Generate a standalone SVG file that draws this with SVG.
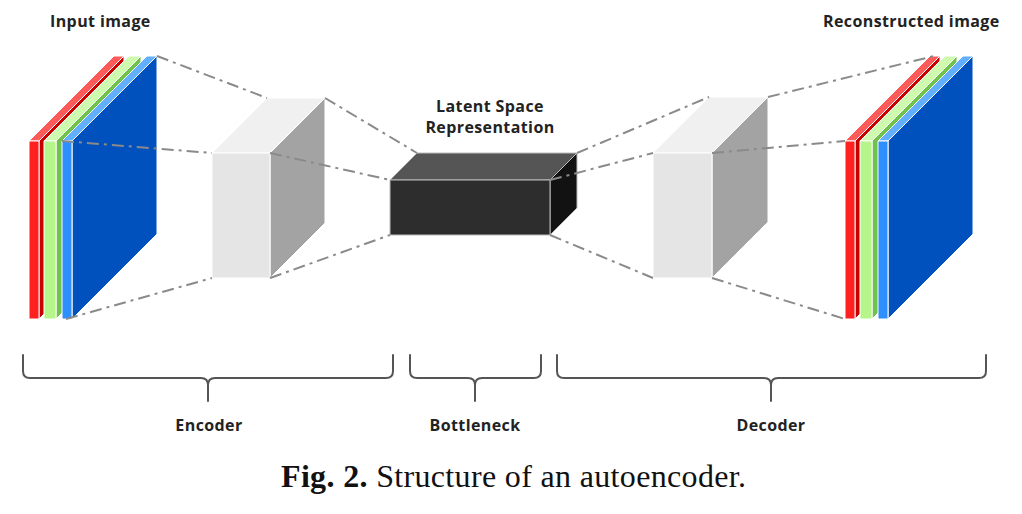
<svg xmlns="http://www.w3.org/2000/svg" width="1022" height="514" viewBox="0 0 1022 514">
<style>
.lbl{font-family:"Open Sans","Liberation Sans",sans-serif;font-weight:bold;font-size:16px;fill:#222;letter-spacing:0.4px}
.mid{text-anchor:middle}
.edge{stroke:#fff;stroke-width:1;stroke-linejoin:round}
.dk{stroke:#bbb;stroke-width:1;stroke-linejoin:round}
.conn{fill:none;stroke:#8a8a8a;stroke-width:2;stroke-dasharray:12 5 3 5}
.brace{fill:none;stroke:#555;stroke-width:2;stroke-linecap:round}
.cap{font-family:"Liberation Serif",serif;font-size:32px;fill:#111}
</style>
<rect width="1022" height="514" fill="#fff"/>

<g id="input-image">
  <polygon class="edge" points="39,141 124,56 124,234 39,319" fill="#C80000"/>
  <polygon class="edge" points="29,141 39,141 124,56 114,56" fill="#FF5A5A"/>
  <rect class="edge" x="29" y="141" width="10" height="178" fill="#FF2020"/>
  <polygon class="edge" points="56,141 141,56 141,234 56,319" fill="#6FC24A"/>
  <polygon class="edge" points="44,141 56,141 141,56 129,56" fill="#CFF9AE"/>
  <rect class="edge" x="44" y="141" width="12" height="178" fill="#B5F58A"/>
  <polygon class="edge" points="72,141 157,56 157,234 72,319" fill="#0050BE"/>
  <polygon class="edge" points="62,141 72,141 157,56 147,56" fill="#62AEFF"/>
  <rect class="edge" x="62" y="141" width="10" height="178" fill="#2E8FFF"/>
</g>

<g id="encoder-layer">
  <polygon class="edge" points="270,153 325,98 325,223 270,278" fill="#A3A3A3"/>
  <polygon class="edge" points="212,153 270,153 325,98 267,98" fill="#F0F0F0"/>
  <rect class="edge" x="212" y="153" width="58" height="125" fill="#E5E5E5"/>
</g>

<g id="bottleneck">
  <polygon class="dk" points="550,180 577,153 577,208 550,235" fill="#121212"/>
  <polygon class="dk" points="390,180 550,180 577,153 417,153" fill="#555555"/>
  <rect class="dk" x="390" y="180" width="160" height="55" fill="#2D2D2D"/>
</g>

<g id="decoder-layer">
  <polygon class="edge" points="712,153 768,97 768,222 712,278" fill="#A3A3A3"/>
  <polygon class="edge" points="653,153 712,153 768,97 709,97" fill="#F0F0F0"/>
  <rect class="edge" x="653" y="153" width="59" height="125" fill="#E5E5E5"/>
</g>

<g id="reconstructed-image">
  <polygon class="edge" points="855,141 940,56 940,234 855,319" fill="#C80000"/>
  <polygon class="edge" points="845,141 855,141 940,56 930,56" fill="#FF5A5A"/>
  <rect class="edge" x="845" y="141" width="10" height="178" fill="#FF2020"/>
  <polygon class="edge" points="872,141 957,56 957,234 872,319" fill="#6FC24A"/>
  <polygon class="edge" points="860,141 872,141 957,56 945,56" fill="#CFF9AE"/>
  <rect class="edge" x="860" y="141" width="12" height="178" fill="#B5F58A"/>
  <polygon class="edge" points="888,141 973,56 973,234 888,319" fill="#0050BE"/>
  <polygon class="edge" points="878,141 888,141 973,56 963,56" fill="#62AEFF"/>
  <rect class="edge" x="878" y="141" width="10" height="178" fill="#2E8FFF"/>
</g>

<g id="connectors">
  <line class="conn" x1="157" y1="56" x2="267" y2="98"/>
  <line class="conn" x1="62" y1="141" x2="212" y2="153"/>
  <line class="conn" x1="66" y1="319" x2="212" y2="278"/>
  <line class="conn" x1="325" y1="98" x2="417" y2="153"/>
  <line class="conn" x1="270" y1="153" x2="390" y2="180"/>
  <line class="conn" x1="270" y1="278" x2="390" y2="235"/>
  <line class="conn" x1="577" y1="153" x2="709" y2="97"/>
  <line class="conn" x1="550" y1="180" x2="653" y2="153"/>
  <line class="conn" x1="550" y1="235" x2="653" y2="278"/>
  <line class="conn" x1="768" y1="97" x2="934" y2="56"/>
  <line class="conn" x1="712" y1="153" x2="845" y2="141"/>
  <line class="conn" x1="712" y1="278" x2="845" y2="319"/>
</g>

<g id="labels">
  <text class="lbl" x="50" y="27">Input image</text>
  <text class="lbl" x="823" y="27">Reconstructed image</text>
  <text class="lbl mid" x="490" y="112">Latent Space</text>
  <text class="lbl mid" x="490" y="133">Representation</text>
</g>

<g id="encoder-brace">
  <path class="brace" d="M23,355 V371 Q23,378 30,378 H201 Q208,378 208,385 V401 M208,385 Q208,378 215,378 H386 Q393,378 393,371 V355"/>
  <text class="lbl mid" x="209" y="431">Encoder</text>
</g>
<g id="bottleneck-brace">
  <path class="brace" d="M410,355 V371 Q410,378 417,378 H468 Q475,378 475,385 V401 M475,385 Q475,378 482,378 H534 Q541,378 541,371 V355"/>
  <text class="lbl mid" x="475" y="431">Bottleneck</text>
</g>
<g id="decoder-brace">
  <path class="brace" d="M557,355 V371 Q557,378 564,378 H764 Q771,378 771,385 V401 M771,385 Q771,378 778,378 H979 Q986,378 986,371 V355"/>
  <text class="lbl mid" x="771" y="431">Decoder</text>
</g>

<text class="cap" x="281" y="487" textLength="465" lengthAdjust="spacing"><tspan font-weight="bold">Fig. 2.</tspan> Structure of an autoencoder.</text>
</svg>
